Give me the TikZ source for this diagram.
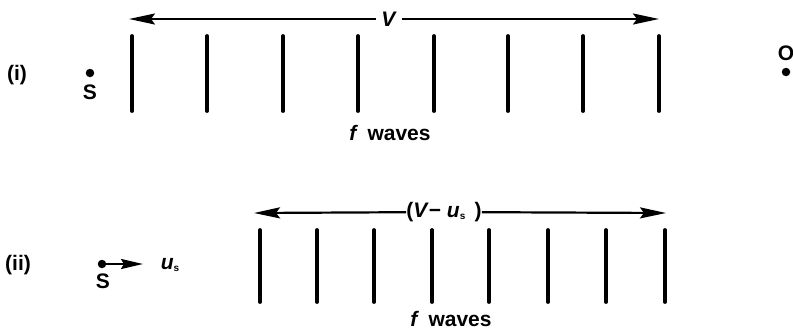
\documentclass[tikz,border=0pt]{standalone}
\usepackage{fontspec}
\setmainfont{Liberation Sans}
\usetikzlibrary{arrows.meta}
\newcommand{\subs}{{\fontsize{10}{10}\selectfont\raisebox{-2pt}{\bfseries s}}}
\begin{document}
\begin{tikzpicture}[x=1pt,y=-1pt,
  lbl/.style={inner sep=1pt,font=\fontsize{21}{25}\selectfont\bfseries},
  bar/.style={line width=3.8pt,line cap=round},
  half/.style={line width=2.2pt,-{Stealth[length=26pt,width=11pt,inset=4pt]}},
  dotc/.style={circle,fill=black,inner sep=0pt,minimum size=8.5pt}]
\useasboundingbox (0,0) rectangle (793,333);
% ---------- (i) ----------
\node[lbl] (li) at (17,75) {(i)};
\node[dotc] (s1) at (90,73) {};
\node[lbl] (s1t) at (90,92) {S};
\node[lbl] (o1t) at (786,53) {O};
\node[dotc] (o1) at (786,72) {};
\coordinate (a1l) at (129,19);
\coordinate (a1r) at (659,19);
\node[lbl,fill=white,inner xsep=5pt] (v1) at (389,19) {\textit{V}};
\draw[half] (v1) -- (a1l);
\draw[half] (v1) -- (a1r);
\foreach \x in {132,207,283,358,434,508,583,659}
  \draw[bar] (\x,36) -- (\x,111);
\node[lbl] (fw1) at (390,133) {\textit{f}\ \,waves};
% ---------- (ii) ----------
\node[lbl] (lii) at (18,265) {(ii)};
\node[dotc] (s2) at (102,264) {};
\node[lbl] (s2t) at (103,281) {S};
\coordinate (s2e) at (143,264);
\draw[line width=2.4pt,-{Stealth[length=22pt,width=10pt,inset=3pt]}] (s2) -- (s2e);
\node[lbl] (us) at (170,265) {\textit{u}\subs};
\coordinate (a2l) at (254,213);
\coordinate (a2r) at (666,213);
\node[lbl,fill=white,inner xsep=0pt] (v2) at (444,212) {(\textit{V}−\ \textit{u}\subs\ \,)};
\draw[half] (v2) -- (a2l);
\draw[half] (v2) -- (a2r);
\foreach \x in {260,317,374,432,489,548,606,665}
  \draw[bar] (\x,230) -- (\x,302);
\node[lbl] (fw2) at (451,319) {\textit{f}\ \,waves};
\end{tikzpicture}
\end{document}
